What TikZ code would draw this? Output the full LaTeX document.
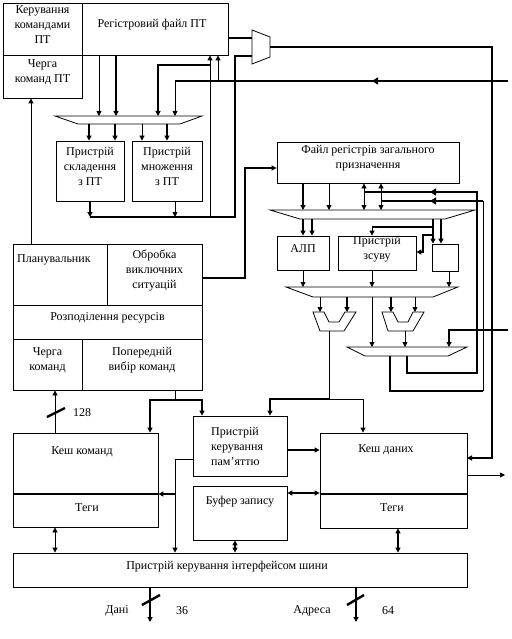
\documentclass[tikz,border=0pt]{standalone}
\usepackage{fontspec}
\setmainfont{Liberation Serif}
\usetikzlibrary{arrows.meta, fit}
\newcommand\boxfont{\fontsize{12}{15}\selectfont}
\tikzset{
    blk/.style={
        draw, line width=0.8pt,
        inner sep=0pt,
        align=center,
        font=\boxfont
    },
    txt/.style={inner sep=0pt, align=center, font=\boxfont},
    wire/.style={line width=0.8pt},
    bus/.style={line width=2.4pt},
    mux/.style={draw, line width=0.8pt},
    tip/.style={-{Triangle[length=5pt,width=5pt]}},
    tips/.style={{Triangle[length=5pt,width=5pt]}-{Triangle[length=5pt,width=5pt]}},
    midtip/.style={line width=2.4pt, -{Triangle[length=6pt,width=7pt]}},
}

\begin{document}
\begin{tikzpicture}[x=1pt, y=-1pt]
        \useasboundingbox (0,0) rectangle (511,639);

        % floating point unit
        \node[blk, fit={(3,3) (82,55)}] (fpctl) {Керування\\командами\\ПТ};
        \node[blk, fit={(3,55) (82,98)}] (fpq) {Черга\\команд ПТ};
        \node[blk, fit={(82,3) (228,55)}] (fpreg) {};
        \node[txt] (fpregT) at (152,25) {Регістровий файл ПТ};
        \draw[mux] (55,116) coordinate (fpmuxT) -- (202,116) -- (180,124) -- (78,124) coordinate (fpmuxB) -- cycle;
        \node[blk, fit={(56,141) (124,201)}] (fpadd) {Пристрій\\складення\\з ПТ};
        \node[blk, fit={(132,141) (202,201)}] (fpmul) {Пристрій\\множення\\з ПТ};
        \draw[mux] (252,30) coordinate (outmuxT) -- (270,37) -- (270,57) -- (252,64) -- cycle;
        \coordinate (outmuxO) at (270,47);

        \draw[wire, tip] (fpreg.south -| 99,0) -- (fpmuxT -| 99,0);
        \draw[bus, tip] (fpreg.south -| 116,0) -- (fpmuxT -| 116,0);
        \foreach \x in {89,115,167}
            \draw[bus, tip] (fpmuxB -| \x,0) -- (fpadd.north -| \x,0);
        \draw[wire, tip] (fpmuxB -| 142,0) -- (fpmul.north -| 142,0);

        \coordinate (fpbus) at (90,217);
        \draw[bus, tip] (fpadd.south -| 90,0) -- (fpbus);
        \draw[wire, tip] (fpmul.south -| 175,0) -- (fpbus -| 175,0);
        \draw[bus] (fpbus) -- (235,217) |- (outmuxT |- 0,56);
        \draw[wire, tip] (fpbus -| 210,0) -- (fpreg.south -| 210,0);
        \draw[bus, tip] (210,65) -| (fpmuxT -| 158,0);
        \draw[bus] (508,81) -- (175,81);
        \draw[midtip] (384,81) -- (372,81);
        \draw[wire, tip] (175,81) -- (fpmuxT -| 175,0);
        \draw[wire, tip] (218,81) -- (fpreg.south -| 218,0);
        \draw[bus] (fpreg.east |- 0,38) -- (outmuxT |- 0,38);
        \draw[bus, tip] (outmuxO) -| (492,458) -- (492,458) -- (467,458);

        % integer unit
        \node[blk, fit={(277,142) (459,183)}] (gpr) {Файл регістрів загального\\призначення};
        \draw[mux] (270,210) coordinate (alumuxT) -- (475,210) -- (445,219) -- (300,219) coordinate (alumuxB) -- cycle;
        \node[blk, fit={(277,236) (329,270)}] (alu) {АЛП};
        \node[blk, fit={(338,236) (416,270)}] (shift) {Пристрій\\зсуву};
        \node[blk, fit={(432,244) (458,271)}] (sbox) {};
        \draw[mux] (286,287) coordinate (resmuxT) -- (458,287) -- (433,297) -- (313,297) coordinate (resmuxB) -- cycle;
        \draw[mux] (313,312) coordinate (smuxaT) -- (324,312) -- (329,322) -- (339,322) -- (345,312) -- (356,312) -- (344,331) -- (320,331) coordinate (smuxaB) -- cycle;
        \draw[mux] (382,312) coordinate (smuxbT) -- (393,312) -- (398,322) -- (408,322) -- (413,312) -- (424,312) -- (413,331) -- (388,331) coordinate (smuxbB) -- cycle;
        \draw[mux] (347,347) coordinate (botmuxT) -- (467,347) -- (448,356) -- (365,356) coordinate (botmuxB) -- cycle;

        \draw[bus, tip] (gpr.south -| 303,0) -- (alumuxT -| 303,0);
        \draw[wire, tip] (gpr.south -| 329,0) -- (alumuxT -| 329,0);
        \foreach \x in {364,381}
            \draw[wire, tips] (gpr.south -| \x,0) -- (alumuxT -| \x,0);
        \draw[bus] (botmuxB -| 407,0) |- (477,373) |- (364,192);
        \draw[bus] (botmuxB -| 390,0) |- (483,391);
        \draw[wire] (483,391) -- (483,201);
        \draw[bus] (483,201) -- (381,201);
        \draw[midtip] (441,192) -- (430,192);
        \draw[midtip] (441,201) -- (430,201);

        \foreach \x in {303,312}
            \draw[bus, tip] (alumuxB -| \x,0) -- (alu.north -| \x,0);
        \foreach \x in {433,441}
            \draw[bus, tip] (alumuxB -| \x,0) -- (sbox.north -| \x,0);
        \draw[bus] (433,227) -- (372,227);
        \draw[wire, tip] (372,227) -- (shift.north -| 372,0);
        \draw[bus, tip] (433,235) -| (423,252) -- (shift.east |- 0,252);

        \draw[wire, tip] (alu.south -| 303,0) -- (resmuxT -| 303,0);
        \draw[wire, tip] (shift.south -| 372,0) -- (resmuxT -| 372,0);
        \draw[wire, tip] (sbox.south -| 449,0) -- (resmuxT -| 449,0);
        \draw[wire, tip] (resmuxB -| 320,0) -- (smuxaT -| 320,0);
        \draw[bus, tip] (resmuxB -| 347,0) -- (smuxaT -| 347,0);
        \draw[bus, tip] (resmuxB -| 391,0) -- (smuxbT -| 391,0);
        \draw[wire, tip] (resmuxB -| 415,0) -- (smuxbT -| 415,0);
        \draw[wire, tip] (resmuxB -| 372,0) -- (botmuxT -| 372,0);
        \draw[wire, tip] (smuxbB -| 405,0) -- (botmuxT -| 405,0);
        \draw[bus, tip] (508,330) -| (botmuxT -| 449,0);

        % control unit
        \node[blk, fit={(13,244) (107,305)}] (sched) {};
        \node[txt, anchor=west] (schedT) at (17,260) {Планувальник};
        \node[blk, fit={(107,244) (202,305)}] (exc) {Обробка\\виключних\\ситуацій};
        \node[blk, fit={(13,305) (202,339)}] (res) {Розподілення ресурсів};
        \node[blk, fit={(13,339) (82,390)}] (cq) {Черга\\команд};
        \node[blk, fit={(82,339) (202,390)}] (pref) {Попередній\\вибір команд};

        \draw[wire, tip] (sched.north -| 31,0) -- (fpq.south -| 31,0);
        \draw[bus, tip] (exc.east |- 0,278) -- (245,278) |- (gpr.west |- 0,168);

        % caches
        \node[blk, fit={(13,433) (158,527)}] (icache) {};
        \draw[bus] (icache.west |- 0,494) -- (icache.east |- 0,494);
        \node[txt] (icacheT) at (82,452) {Кеш команд};
        \node[txt] (itagT) at (87,508) {Теги};
        \node[blk, fit={(193,416) (287,476)}] (mmu) {};
        \node[txt, align=left, anchor=west] (mmuT) at (211,446) {Пристрій\\керування\\пам’яттю};
        \node[blk, fit={(193,486) (287,540)}] (wbuf) {};
        \node[txt] (wbufT) at (240,502) {Буфер запису};
        \node[blk, fit={(320,433) (467,528)}] (dcache) {};
        \draw[bus] (dcache.west |- 0,494) -- (dcache.east |- 0,494);
        \node[txt] (dcacheT) at (386,450) {Кеш даних};
        \node[txt] (dtagT) at (392,508) {Теги};
        \node[blk, fit={(13,553) (467,587)}] (biu) {};
        \node[txt] (biuT) at (227,567) {Пристрій керування інтерфейсом шини};

        \draw[wire] (pref.south -| 175,0) -- (175,400);
        \draw[bus, tip] (175,400) -| (icache.north -| 150,0);
        \draw[bus, tip] (175,400) -| (mmu.north -| 202,0);
        \draw[wire] (smuxaB -| 329,0) -- (329,399);
        \draw[bus, tip] (329,399) -| (mmu.north -| 270,0);
        \draw[wire, tip] (329,399) -| (dcache.north -| 363,0);

        \draw[wire, tip] (icache.north -| 55,0) -- (cq.south -| 55,0);
        \draw[bus] (47,417) -- (65,408);
        \node[txt, anchor=west] (w128) at (73,413) {128};

        \draw[wire] (mmu.west |- 0,459) -- (175,459);
        \draw[wire, tip] (175,459) -- (biu.north -| 175,0);
        \draw[bus, tip] (175,494) -- (icache.east |- 0,494);
        \draw[bus, tip] (mmu.east |- 0,450) -- (dcache.west |- 0,450);
        \draw[bus, tips] (wbuf.east |- 0,493) -- (dcache.west |- 0,493);
        \draw[bus, tips] (wbuf.south -| 235,0) -- (biu.north -| 235,0);
        \draw[bus, tips] (dcache.south -| 398,0) -- (biu.north -| 398,0);
        \draw[wire, tips] (icache.south -| 55,0) -- (biu.north -| 55,0);
        \coordinate (dout) at (505,475);
        \draw[wire, tip] (dcache.east |- dout) -- (dout);

        % external buses
        \coordinate (dataout) at (150,622);
        \coordinate (addrout) at (356,622);
        \draw[bus, tip] (biu.south -| dataout) -- (dataout);
        \draw[bus] (142,605) -- (160,595);
        \node[txt] (dataT) at (117,611) {Дані};
        \node[txt] (w36) at (182,611) {36};
        \draw[bus, tip] (biu.south -| addrout) -- (addrout);
        \draw[bus] (347,605) -- (364,595);
        \node[txt] (addrT) at (312,611) {Адреса};
        \node[txt] (w64) at (388,611) {64};
\end{tikzpicture}
\end{document}
